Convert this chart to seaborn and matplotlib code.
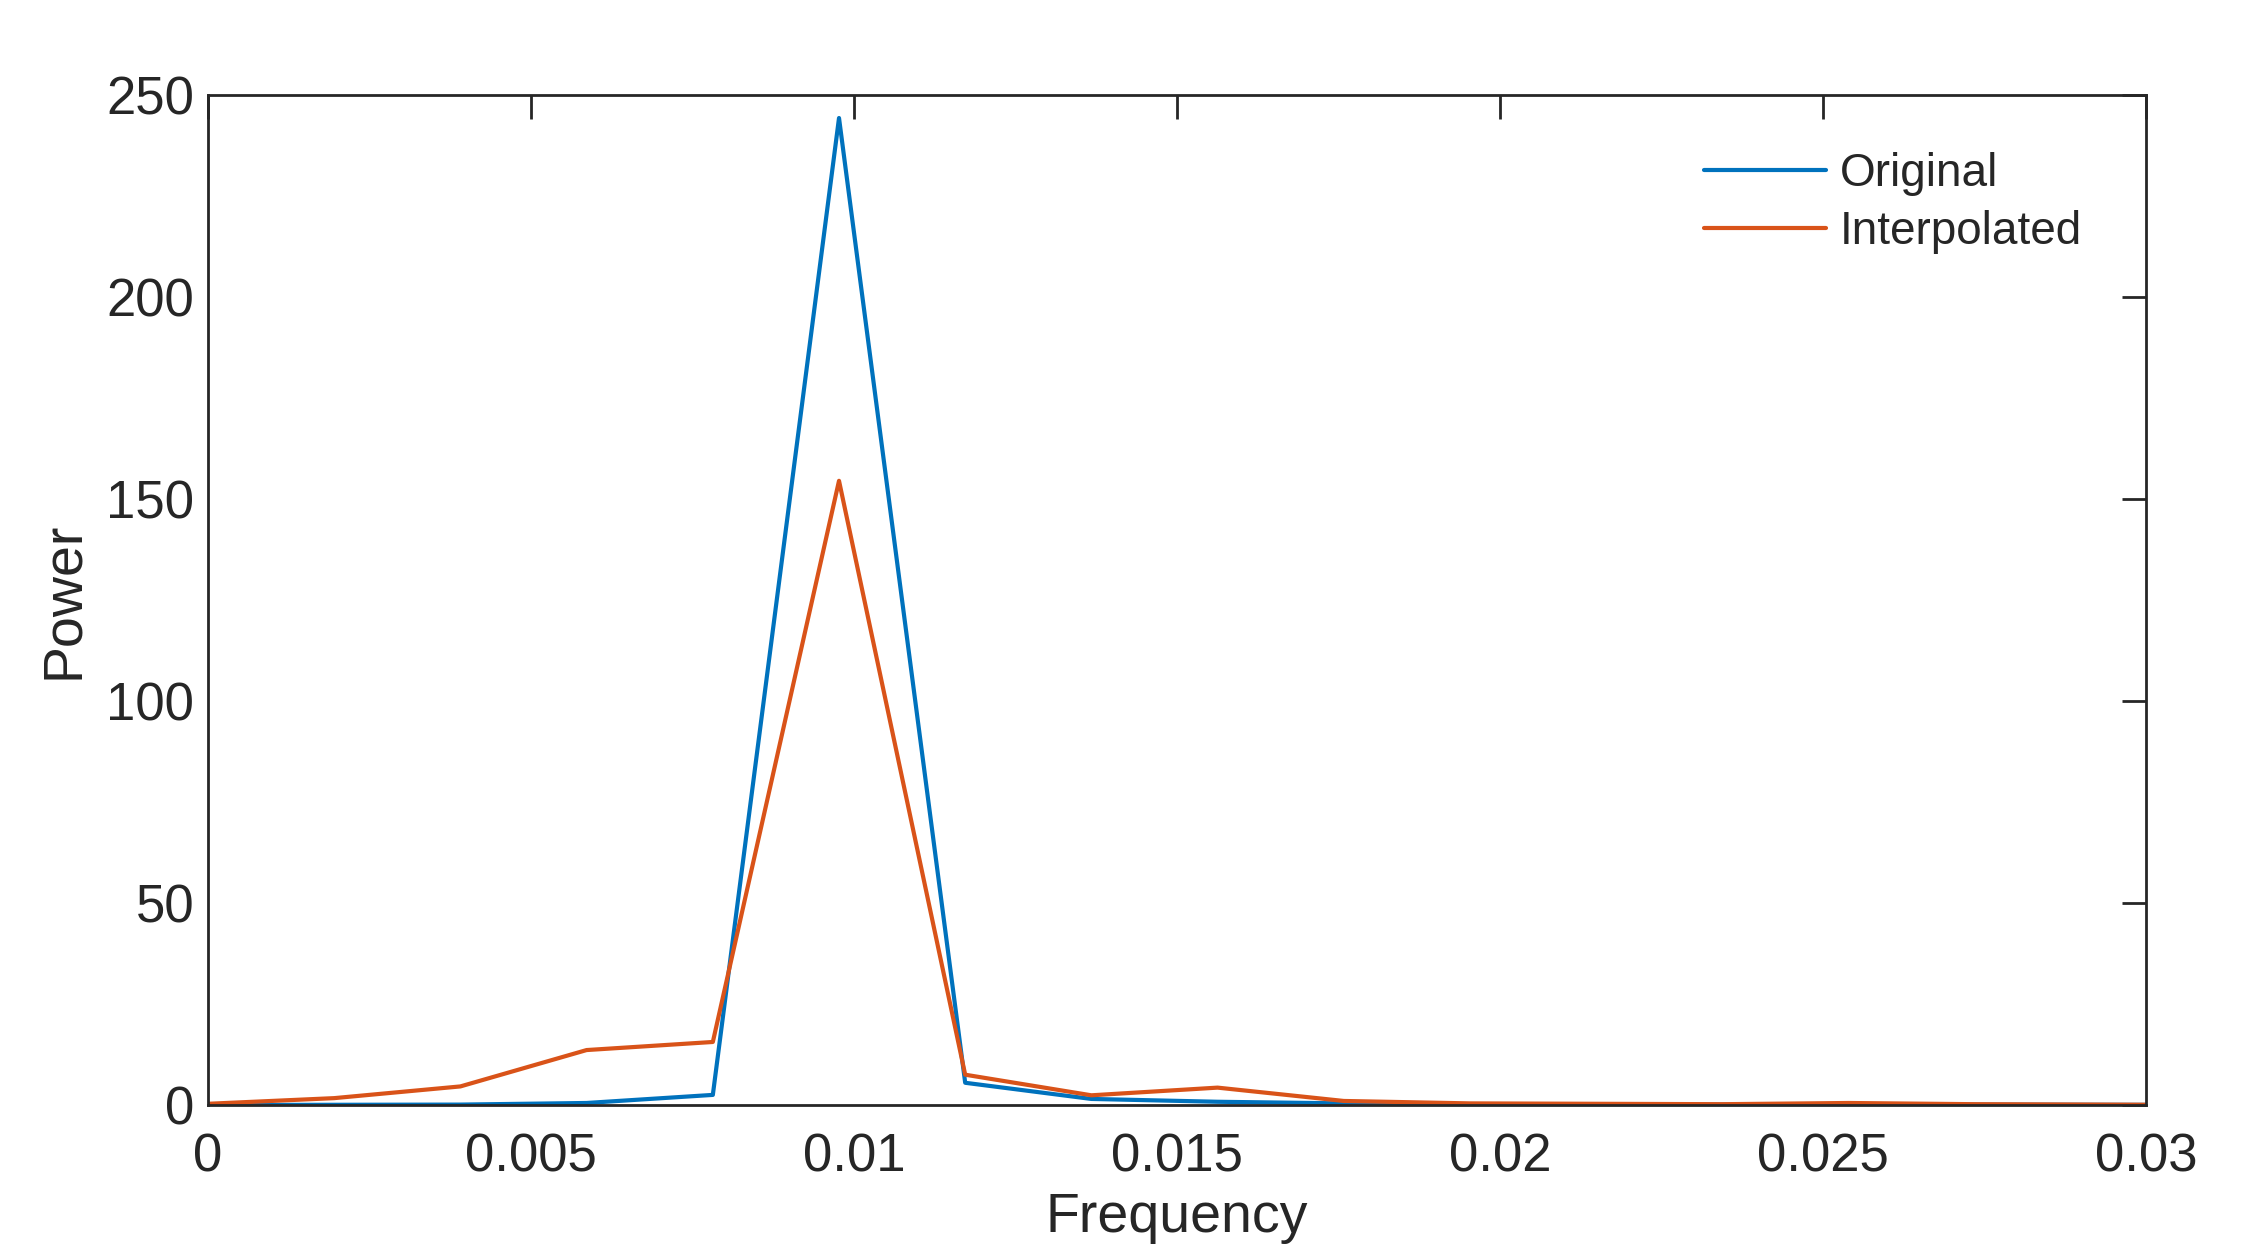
import numpy as np
import pandas as pd
import seaborn as sns
import matplotlib.pyplot as plt

# frequency bins (k/512)
freq = [0.0, 0.001953, 0.003906, 0.005859, 0.007813, 0.009766, 0.011719, 0.013672,
        0.015625, 0.017578, 0.019531, 0.021484, 0.023438, 0.025391, 0.027344, 0.029297, 0.03125]
original = [0.0, 0.05, 0.1, 0.5, 2.5, 244.3, 5.5, 1.5, 0.8, 0.4, 0.2, 0.1, 0.1, 0.2, 0.1, 0.05, 0.0]
interpolated = [0.3, 1.7, 4.6, 13.6, 15.6, 154.5, 7.5, 2.4, 4.3, 1.0, 0.4, 0.3, 0.2, 0.5, 0.2, 0.1, 0.0]

df = pd.DataFrame({
    "Frequency": freq * 2,
    "Power": original + interpolated,
    "series": ["Original"] * len(freq) + ["Interpolated"] * len(freq),
})

sns.set_style("white")
plt.rcParams['font.family'] = ['Liberation Sans', 'DejaVu Sans']

fig, ax = plt.subplots(figsize=(22.64, 12.5), dpi=100)
fig.subplots_adjust(left=0.0919, right=0.948, top=0.924, bottom=0.116)

sns.lineplot(ax=ax, data=df, x="Frequency", y="Power", hue="series",
             palette=["#0072BD", "#D95319"], linewidth=3.0, sort=False)

ax.set_xlim(0, 0.03)
ax.set_ylim(0, 250)
ax.set_xticks([0, 0.005, 0.01, 0.015, 0.02, 0.025, 0.03])
ax.set_xticklabels(["0", "0.005", "0.01", "0.015", "0.02", "0.025", "0.03"])
ax.set_yticks([0, 50, 100, 150, 200, 250])
ax.tick_params(direction="in", length=17, width=2, labelsize=38, colors="#262626",
               top=True, right=True, pad=10)
ax.tick_params(axis="x", pad=20)
for s in ax.spines.values():
    s.set_linewidth(2)
    s.set_color("#262626")
ax.set_xlabel("Frequency", fontsize=40, color="#262626", labelpad=7)
ax.set_ylabel("Power", fontsize=40, color="#262626", labelpad=12)

leg = ax.legend(loc="upper right", frameon=False, fontsize=33, handlelength=2.65,
                handletextpad=0.3, labelspacing=0.3, borderaxespad=0.5,
                bbox_to_anchor=(0.988, 0.984))
for line in leg.get_lines():
    line.set_linewidth(3.0)

fig.savefig("out.png", dpi=100)
